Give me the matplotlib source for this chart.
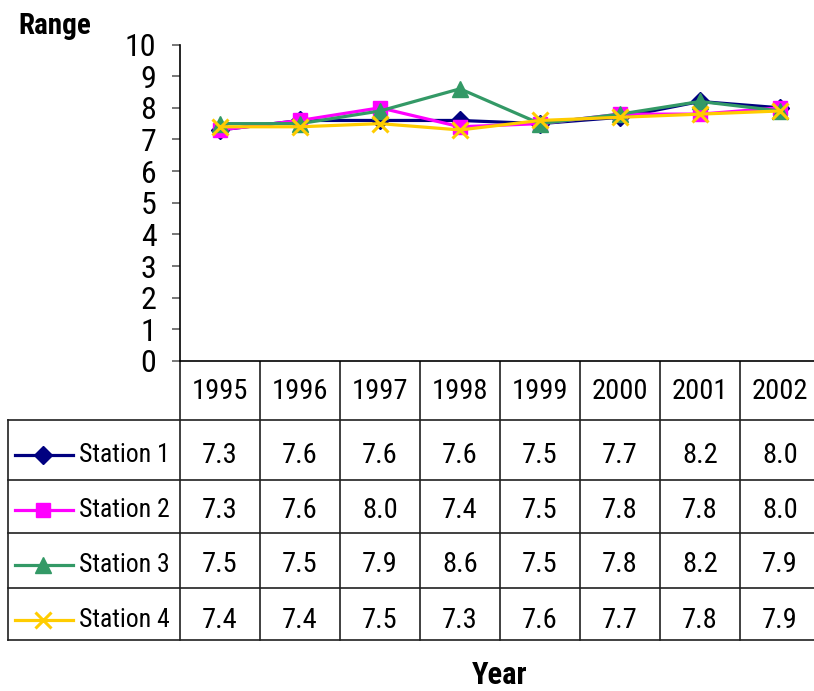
import matplotlib
matplotlib.use("Agg")
import matplotlib.pyplot as plt
from matplotlib.lines import Line2D
from matplotlib import font_manager as fm

# pick a narrow sans face for the condensed look of the labels
entries = fm.fontManager.ttflist
family, stretch, scale = 'DejaVu Sans', 'normal', 0.78
for cand in ['Liberation Sans Narrow', 'Roboto Condensed', 'Open Sans Condensed']:
    if any(e.name == cand for e in entries):
        family, stretch, scale = cand, 'normal', 1.0
        break
else:
    if any(e.name == 'DejaVu Sans' and e.stretch == 'condensed' for e in entries):
        family, stretch, scale = 'DejaVu Sans', 'condensed', 0.86
plt.rcParams['font.family'] = [family, 'DejaVu Sans']
plt.rcParams['font.stretch'] = stretch

years = ['1995', '1996', '1997', '1998', '1999', '2000', '2001', '2002']
station_names = ['Station 1', 'Station 2', 'Station 3', 'Station 4']
station_1 = [7.3, 7.6, 7.6, 7.6, 7.5, 7.7, 8.2, 8.0]
station_2 = [7.3, 7.6, 8.0, 7.4, 7.5, 7.8, 7.8, 8.0]
station_3 = [7.5, 7.5, 7.9, 8.6, 7.5, 7.8, 8.2, 7.9]
station_4 = [7.4, 7.4, 7.5, 7.3, 7.6, 7.7, 7.8, 7.9]
y_ticks = list(range(0, 11))

series = [station_1, station_2, station_3, station_4]
colors = ['#000080', '#FF00FF', '#339966', '#FFCC00']
markers = ['D', 's', '^', 'x']
msizes = [9, 10, 11, 12]

W, H = 814, 691
fig = plt.figure(figsize=(W / 100, H / 100), dpi=100)

# plot area in pixel units
px_left, px_top, px_right, px_bottom = 180, 44.5, 820, 361
ax = fig.add_axes([px_left / W, 1 - px_bottom / H,
                   (px_right - px_left) / W, (px_bottom - px_top) / H])
x = list(range(len(years)))
for i, vals in enumerate(series):
    ax.plot(x, vals, color=colors[i], lw=2.3, marker=markers[i], ms=msizes[i],
            mec=colors[i], mfc=colors[i], mew=2.2 if markers[i] == 'x' else 1,
            zorder=3 + i, clip_on=False)
ax.set_xlim(-0.5, len(years) - 0.5)
ax.set_ylim(0, 10)
ax.set_yticks(y_ticks)
ax.set_yticklabels([str(t) for t in y_ticks], fontsize=23 * scale)
ax.set_xticks([])
for s in ['top', 'right']:
    ax.spines[s].set_visible(False)
ax.spines['left'].set_linewidth(1.2)
ax.spines['bottom'].set_linewidth(1.2)
ax.tick_params(axis='y', direction='out', length=6, width=1.2, color='#606060', pad=11)

# data table beneath the plot, in figure pixel coordinates
tab = fig.add_axes([0, 0, 1, 1], zorder=-1)
tab.set_xlim(0, W)
tab.set_ylim(H, 0)
tab.axis('off')

col_w = (px_right - px_left) / len(years)
row_lines = [420, 480, 533, 588, 640]
row_centers = [455, 510, 565, 620]
lc = '#202020'
lw = 1.2
for j in range(len(years) + 1):
    xv = px_left + j * col_w
    tab.plot([xv, xv], [px_bottom, row_lines[-1]], color=lc, lw=lw)
tab.plot([8, 8], [row_lines[0], row_lines[-1]], color=lc, lw=lw)
for yl in row_lines:
    tab.plot([8, W + 10], [yl, yl], color=lc, lw=lw)

fs = 20.5 * scale
for j, yr in enumerate(years):
    tab.text(px_left + (j + 0.5) * col_w, 391, yr, ha='center', va='center', fontsize=fs)

for i, name in enumerate(station_names):
    yc = row_centers[i]
    tab.add_line(Line2D([15, 73], [yc, yc], color=colors[i], lw=2.3))
    tab.add_line(Line2D([43], [yc], color=colors[i], marker=markers[i], ms=msizes[i],
                        mec=colors[i], mfc=colors[i],
                        mew=2.2 if markers[i] == 'x' else 1))
    tab.text(79, yc, name, ha='left', va='center', fontsize=18.5 * scale)
    for j, v in enumerate(series[i]):
        tab.text(px_left + (j + 0.5) * col_w, yc, f'{v:.1f}', ha='center',
                 va='center', fontsize=fs)

fig.text(18 / W, 1 - 26 / H, 'Range', ha='left', va='center', fontsize=21 * scale,
         fontweight='bold')
fig.text(500 / W, 1 - 675 / H, 'Year', ha='center', va='center', fontsize=22 * scale,
         fontweight='bold')

fig.savefig('out.png', dpi=100, facecolor='white')
